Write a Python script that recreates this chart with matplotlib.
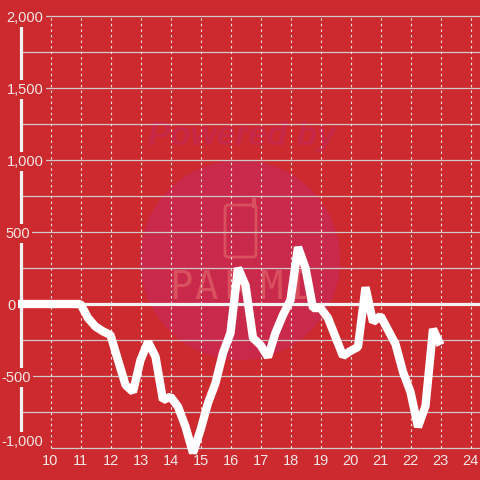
import matplotlib
matplotlib.use("Agg")
import matplotlib.pyplot as plt
from matplotlib.patches import Circle, FancyBboxPatch

hours = [8.75, 9, 9.25, 9.5, 9.75, 10, 10.25, 10.5, 10.75, 11, 11.25, 11.5, 11.75, 12, 12.25, 12.5, 12.75,
         13, 13.25, 13.5, 13.75, 14, 14.25, 14.5, 14.75, 15, 15.25, 15.5, 15.75,
         16, 16.25, 16.5, 16.75, 17, 17.25, 17.5, 17.75, 18, 18.25, 18.5, 18.75,
         19, 19.25, 19.5, 19.75, 20, 20.25, 20.5, 20.75, 21, 21.25, 21.5, 21.75,
         22, 22.25, 22.5, 22.75, 23]
values = [0, 0, 0, 0, 0, 0, 0, 0, 0, 0, -97, -157, -190, -215, -390, -562, -610,
          -390, -262, -366, -667, -644, -713, -852, -1035, -875, -688, -549, -340,
          -201, 250, 130, -236, -285, -368, -200, -76, 28, 395, 250, -28,
          -28, -97, -230, -361, -326, -298, 116, -125, -83, -180, -278, -472,
          -611, -854, -708, -174, -285]
x_ticks = list(range(10, 25))
y_ticks = [2000, 1500, 1000, 500, 0, -500, -1000]

BG = "#CC2A2E"
LIGHT = "#F2E6E6"
GRID = "#D0C8C8"

plt.rcParams["font.family"] = "Liberation Sans"
fig = plt.figure(figsize=(4.8, 4.8), dpi=100, facecolor=BG)
ax = fig.add_axes([0, 0, 1, 1], facecolor=BG)
ax.set_xlim(10 - 50.5 / 30, 10 + (480 - 50.5) / 30)
ax.set_ylim((304 - 480) / 0.144, 304 / 0.144)
ax.axis("off")

def px(xp, yp):
    return 10 + (xp - 50.5) / 30, (304 - yp) / 0.144

def frac(xp, yp):
    return xp / 480, 1 - yp / 480

# Watermark
ax.add_patch(Circle(frac(240, 260), 100 / 480, transform=ax.transAxes, color="#C9294A", lw=0, zorder=1))
ax.text(*frac(242, 137), "Powered by", transform=ax.transAxes, ha="center", va="center",
        fontsize=24, fontweight="bold", style="italic", color="#C72848", zorder=1.1)
wm_line = "#D9505F"
ax.add_patch(FancyBboxPatch(frac(225, 257), 31 / 480, 52 / 480, transform=ax.transAxes,
                            boxstyle="round,pad=0,rounding_size=0.006", fc="none", ec=wm_line, lw=2.0, zorder=1.2))
ax.plot(*zip(frac(254.5, 206), frac(254.5, 200)), transform=ax.transAxes, color=wm_line, lw=3, zorder=1.2)
for letter, xp in zip("PARMI", [181, 206, 236, 271, 297]):
    ax.text(*frac(xp, 288), letter, transform=ax.transAxes, ha="center", va="center",
            fontsize=28, family="DejaVu Sans Mono", color=wm_line, zorder=1.2)

# Grid
x_left = px(20.5, 0)[0]
x_right = ax.get_xlim()[1]
for v in range(-1000, 2001, 250):
    ax.plot([10 if v == -1000 else x_left, x_right], [v, v], color=GRID, lw=0.9, zorder=2, solid_capstyle="butt")
for h in x_ticks:
    ax.plot([h, h], [-1000, 2000], color="#E8E4E4", lw=0.8, ls=(0, (2.2, 2.8)), zorder=2)

# Axes
ax.plot([x_left] * 2, [px(0, 24)[1], px(0, 436)[1]], color="#F2F2F2", lw=2.3, zorder=3, solid_capstyle="butt")
ax.plot([x_left, x_right], [0, 0], color="#F2F2F2", lw=2.3, zorder=3, solid_capstyle="butt")

# Data
ax.plot(hours, values, color="white", lw=6.0, zorder=4, solid_joinstyle="bevel", solid_capstyle="butt")

# Labels
for h in x_ticks:
    ax.text(h, px(0, 461)[1], str(h), ha="center", va="center", fontsize=10.5, color=LIGHT, zorder=5)
label_y = {2000: 17.5, 1500: 89.5, 1000: 161.5, 500: 233.5, 0: 305.5, -500: 377.5, -1000: 441.5}
label_right = {2000: 43.5, 1500: 43.5, 1000: 43.5, 500: 30, 0: 16, -500: 31, -1000: 43.5}
for v in y_ticks:
    ax.text(px(label_right[v], 0)[0], px(0, label_y[v])[1], f"{v:,}", ha="right", va="center", fontsize=10.5,
            color=LIGHT, zorder=5, bbox=dict(fc=BG, ec="none", pad=1.5))

fig.savefig("out.png", dpi=100, facecolor=BG)
